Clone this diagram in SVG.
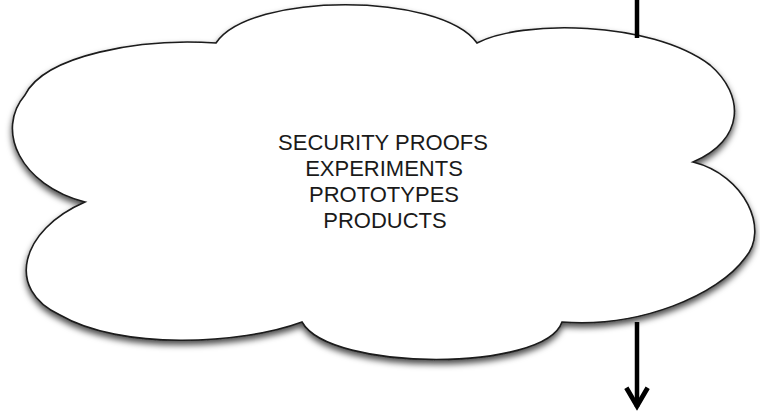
<svg xmlns="http://www.w3.org/2000/svg" width="760" height="412" viewBox="0 0 760 412">
<style>
.cloud{fill:#fff;stroke:#1a1a1a;stroke-width:1.6;filter:url(#sh)}
.lbl{font-family:"Liberation Sans",Arial,sans-serif;font-size:22px;fill:#1a1a1a;text-anchor:middle}
.conn{stroke:#000;stroke-width:4.5;fill:none}
</style>
<defs>
<filter id="sh" x="-10%" y="-10%" width="120%" height="130%">
<feDropShadow dx="0" dy="4" stdDeviation="3.2" flood-color="#000" flood-opacity="0.7"/>
</filter>
<marker id="ah" markerUnits="userSpaceOnUse" markerWidth="32" markerHeight="32" viewBox="-3 -15 28 30" refX="18" refY="0" orient="auto">
<path d="M0,-10 L17,0 L0,10" fill="none" stroke="#000" stroke-width="4.5" stroke-linejoin="miter"/>
</marker>
</defs>
<g id="cloud">
<path class="cloud" d="M216,43 C250,-8 440,-8 477,43 C520,20 650,20 710,65 C745,95 745,140 693,162 C745,175 770,230 745,258 C718,295 640,328 562,322 C545,372 330,372 302,322 C240,345 120,350 60,315 C5,290 20,230 85,202 C20,185 -5,130 25,95 C45,55 140,38 216,43 Z"/>
<text class="lbl" x="383" y="150">SECURITY PROOFS</text>
<text class="lbl" x="384" y="176">EXPERIMENTS</text>
<text class="lbl" x="384" y="202">PROTOTYPES</text>
<text class="lbl" x="385" y="228">PRODUCTS</text>
</g>
<g id="connectors">
<line class="conn" x1="637" y1="0" x2="637" y2="38"/>
<line class="conn" x1="637" y1="322" x2="637" y2="407" marker-end="url(#ah)"/>
</g>
</svg>
